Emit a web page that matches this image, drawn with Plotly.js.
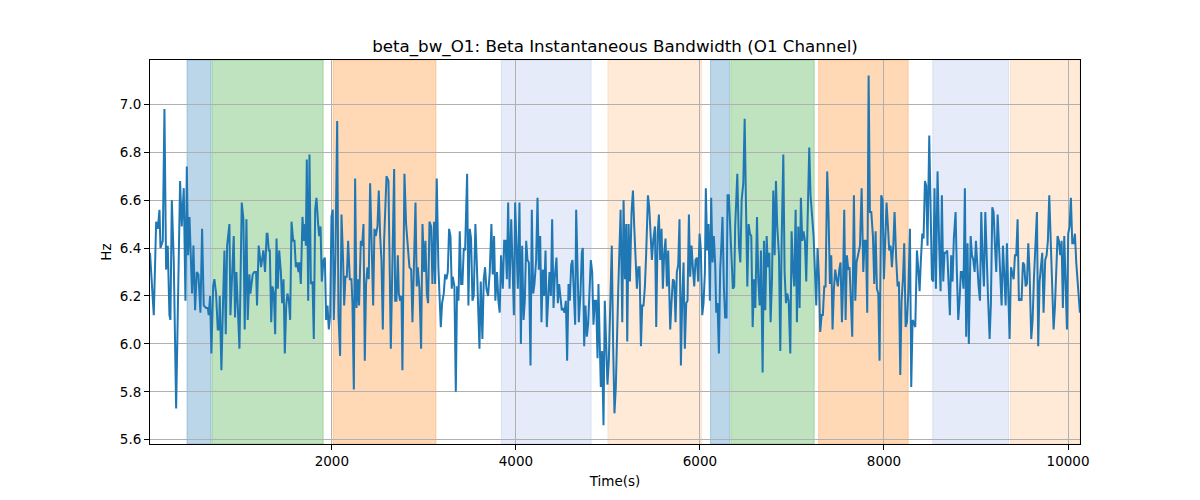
<!DOCTYPE html>
<html>
<head>
<meta charset="utf-8">
<script src="https://cdn.plot.ly/plotly-3.0.1.min.js"></script>
<style>
  body { margin: 0; background: #fff; }
  #chart { width: 1200px; height: 500px; }
</style>
</head>
<body>
<div id="chart"></div>
<script>
// --- DATA ---
const time = [
  24,65,91,109,127,138,163,181,199,217,235,246,261,282,308,333,351,369,391,409,424,438,453,481,496,514,532,550,572,590,608,634,652,662,677,691,710,724,742,760,775,782,800,818,833,847,862,887,898,934,948,963,977,996,1021,1039,1053,1072,1086,1104,1115,1140,1158,1177,1187,1205,1231,1256,1274,1292,
  1301,1315,1326,1341,1355,1370,1384,1399,1413,1428,1446,1460,1475,1489,1504,1518,1533,1547,1562,1580,1594,1609,1623,1638,1648,1663,1681,1696,1710,1717,1728,1743,1757,1772,1790,1804,1819,1833,1851,1862,1877,1891,1909,1924,1938,1953,1967,1982,1996,2010,2021,2039,2058,2072,2090,2105,2123,2134,2148,2163,2177,2195,2213,2224,2239,2253,2268,2286,2296,2315,2329,2344,2358,2372,2387,2401,2416,2434,2449,2463,2477,2496,2510,2525,2539,2554,2568,
  2594,2615,2641,2662,2677,2688,2702,2717,2728,2742,2757,2767,2789,2807,2825,2843,2862,2876,2891,2909,2923,2934,2952,2970,2985,3003,3017,3032,3046,3061,3079,3093,3111,3122,3140,3158,3184,3198,3216,3231,3245,3260,3274,3289,3303,3314,3332,3347,3361,3376,3390,3405,3419,3434,3448,3470,3484,3499,3513,3528,3542,3560,3575,3593,3604,3618,3636,3651,3665,3680,3698,3716,3734,3748,3763,3777,3795,3810,3824,3839,
  3858,3873,3887,3902,3916,3931,3949,3963,3978,3992,4007,4021,4039,4054,4068,4083,4097,4112,4126,4141,4159,4173,4188,4202,4220,4235,4249,4264,4278,4293,4307,4322,4336,4351,4365,4380,4394,4409,4423,4441,4456,4470,4485,4499,4514,4528,4543,4557,4572,4586,4601,4615,4630,4644,4655,4669,4684,4702,4716,4727,4742,4756,4771,4785,4800,4814,4829,4843,4858,4872,4887,4897,4912,4923,4937,4952,4966,4981,4995,5010,5024,5042,5057,5071,5086,5100,5111,
  5138,5156,5170,5185,5199,5210,5225,5239,5257,5272,5286,5301,5315,5330,5344,5359,5373,5387,5402,5416,5435,5449,5463,5478,5492,5511,5525,5540,5554,5568,5583,5597,5612,5626,5641,5655,5666,5677,5692,5706,5721,5735,5749,5764,5778,5793,5807,5822,5836,5851,5865,5880,5894,5909,5923,5938,5952,5967,5981,5996,6010,6025,6039,6054,6064,6079,6093,6108,6122,6137,6151,6166,6177,6191,6206,6220,6235,6245,6260,6274,6289,6300,6314,6329,6343,6358,6372,6383,
  6406,6424,6439,6453,6471,6486,6500,6515,6529,6544,6558,6573,6587,6602,6620,6634,6649,6663,6681,6696,6710,6725,6739,6754,6768,6783,6797,6812,6826,6840,6859,6873,6888,6906,6920,6935,6949,6964,6982,6996,7011,7025,7040,7054,7069,7083,7097,7112,7126,7141,7155,7174,7188,7202,7217,7235,7250,7264,7278,7293,7307,7322,7336,7351,7365,7383,7398,7412,7427,7441,7456,7470,7485,7499,7514,7528,7543,7554,7568,7583,7597,7612,7626,7640,7655,
  7673,7688,7702,7721,7739,7757,7775,7789,7804,7818,7833,7847,7862,7880,7894,7909,7923,7938,7952,7970,7985,7999,8014,8028,8043,8057,8072,8086,8101,8115,8133,8148,8162,8177,8191,8206,8220,8235,8249,8264,8282,8296,8311,8325,8340,8358,8372,8387,8401,8416,8430,8445,8459,8473,8492,8506,8521,8535,8549,8564,8582,8600,8615,8629,8644,8658,8673,8687,8702,8716,8730,8745,8759,8778,8792,8807,8821,8835,8850,8864,8879,8893,8908,8922,
  8942,8956,8971,8985,8999,9014,9028,9043,9057,9072,9086,9101,9115,9130,9148,9162,9177,9191,9206,9220,9235,9249,9264,9278,9293,9307,9322,9336,9351,9365,9380,9394,9409,9423,9437,9452,9466,9481,9495,9510,9524,9539,9553,9568,9582,9600,9615,9629,9644,9662,9676,9691,9705,9720,9734,9752,9767,9781,9796,9810,9825,9843,9857,9872,9886,9901,9915,9930,9944,9959,9973,9988,10002,10017,10031,10046,10060,10075,10089,10104,10118,10129
];

const bandwidth = [
  6.38,6.12,6.51,6.48,6.56,6.40,6.43,6.98,6.31,6.41,6.12,6.10,6.60,6.35,5.73,6.21,6.68,6.49,6.65,6.18,6.74,6.37,6.53,6.21,6.41,6.14,6.30,6.29,6.13,6.48,6.16,6.15,6.15,6.12,6.20,5.96,6.24,6.27,6.21,6.06,6.06,6.20,5.89,6.18,6.39,6.04,6.41,6.50,6.12,6.45,6.11,6.30,6.12,5.98,6.59,6.52,6.06,6.52,6.10,6.29,6.21,6.29,6.30,6.30,6.16,6.41,6.32,6.39,6.30,6.46,
  6.46,6.39,6.39,6.09,6.24,6.21,6.04,6.44,6.23,6.39,6.30,6.17,6.27,5.96,6.16,6.21,6.18,6.10,6.51,6.43,6.43,6.32,6.34,6.30,6.34,6.25,6.53,6.43,6.50,6.41,6.77,6.18,6.79,6.25,6.26,6.02,6.56,6.61,6.50,6.45,6.49,6.26,6.35,6.36,6.10,6.16,6.06,6.12,6.53,6.56,6.10,6.37,6.93,6.12,5.95,6.54,6.34,6.16,6.28,6.28,6.43,6.27,6.27,6.17,5.81,6.69,6.15,6.27,6.16,6.43,6.41,6.50,5.93,6.25,6.32,6.27,6.67,6.37,6.16,6.48,6.45,6.49,6.64,6.45,6.35,6.06,6.43,
  6.70,6.68,5.98,6.41,6.73,6.18,6.18,6.37,6.21,6.18,6.20,5.89,6.71,6.50,6.41,6.32,6.31,6.09,6.31,6.59,6.24,6.32,6.23,5.98,6.50,6.30,6.43,6.21,6.17,6.51,6.49,6.25,6.51,6.25,6.69,6.32,6.07,6.17,6.21,6.29,6.27,6.30,6.48,6.45,6.23,6.28,6.24,5.80,6.24,6.18,6.47,6.25,6.25,6.40,6.39,6.71,6.16,6.48,6.44,6.18,6.20,6.50,6.34,6.05,5.98,6.26,6.02,6.27,6.32,6.23,6.20,6.30,6.50,6.29,6.45,6.18,6.30,6.18,6.13,6.37,
  6.23,6.43,6.43,6.27,6.59,6.23,6.52,6.34,6.12,6.59,6.43,6.23,6.59,6.00,6.41,6.10,6.18,6.43,6.35,6.34,5.91,6.56,6.21,6.25,6.35,6.61,6.31,6.45,6.09,6.31,6.20,6.39,6.07,6.18,6.30,6.20,6.52,6.15,6.28,6.36,6.17,6.25,6.18,6.14,6.15,6.13,6.18,5.93,6.25,6.18,6.33,6.35,6.21,6.08,6.56,6.34,6.09,6.21,6.38,6.40,5.99,6.16,6.03,6.08,6.21,6.35,6.30,6.08,6.18,6.18,5.94,6.25,5.99,5.82,5.97,5.66,6.18,5.93,5.83,5.93,6.10,6.41,5.99,5.71,5.82,6.13,6.21,
  6.56,6.09,6.60,6.27,6.50,6.01,6.50,6.26,6.55,6.64,6.49,6.35,6.23,6.32,6.32,5.99,6.16,6.16,6.24,6.38,6.62,6.57,6.43,6.35,6.43,6.49,6.07,6.46,6.54,6.35,6.48,6.23,6.38,6.44,6.24,6.39,6.23,6.06,6.18,6.27,6.26,6.09,6.30,6.33,6.52,5.91,6.18,6.34,5.98,6.17,6.18,6.54,6.28,6.41,6.32,6.24,6.35,6.36,6.26,6.46,6.39,6.12,6.17,6.30,6.65,6.39,6.50,6.18,6.61,6.34,6.45,6.33,6.13,6.17,5.96,6.31,6.43,6.53,6.24,6.11,6.11,6.62,6.62,6.48,6.35,6.23,6.24,6.49,
  6.71,6.41,6.34,6.60,6.67,6.94,6.59,6.24,6.50,6.46,6.45,6.07,6.27,6.15,6.53,6.27,6.16,6.39,5.88,6.43,6.14,6.45,6.32,6.38,6.09,6.27,6.64,6.37,6.68,6.49,6.37,5.97,6.43,6.79,6.30,6.17,6.21,6.18,5.96,6.47,6.31,6.24,6.56,6.09,6.49,6.15,6.61,6.43,6.47,6.43,6.26,6.53,6.82,6.62,6.53,6.45,6.30,6.16,6.40,6.28,6.05,6.12,6.12,6.24,6.24,6.72,6.53,6.25,6.37,6.06,6.23,6.31,6.27,6.24,6.31,6.34,6.09,6.23,6.56,6.10,6.37,6.31,6.32,6.21,6.03,
  6.62,6.18,6.34,6.38,6.41,6.65,6.30,6.43,6.43,6.13,7.12,6.55,6.55,6.45,6.25,6.47,6.23,6.21,5.93,6.62,6.60,6.27,6.48,6.59,6.49,6.39,6.41,6.32,6.41,6.55,6.35,6.24,6.26,5.87,6.18,6.27,6.42,6.07,6.09,6.21,6.48,5.82,6.10,6.09,6.07,6.39,6.32,6.22,6.35,6.46,6.44,6.68,6.66,6.41,6.87,6.56,6.27,6.26,6.65,6.23,6.72,6.41,6.22,6.62,6.26,6.38,6.38,6.39,6.23,6.12,6.37,6.26,6.44,6.55,6.30,6.10,6.18,6.30,6.30,6.23,6.65,6.03,6.42,6.00,
  6.45,6.37,6.35,6.30,6.43,6.32,6.24,6.18,6.55,6.35,6.24,6.55,6.35,6.20,6.02,6.17,6.57,6.55,6.41,6.30,6.54,6.43,6.31,6.16,6.41,6.31,6.16,6.42,6.21,6.02,6.32,6.30,6.27,6.37,6.37,6.52,6.18,6.19,6.18,6.34,6.33,6.24,6.25,6.42,6.30,6.02,6.10,6.27,6.42,6.55,5.99,6.26,6.32,6.38,6.13,6.35,6.37,6.43,6.62,6.43,6.21,6.06,6.15,6.35,6.45,6.43,6.37,6.43,6.15,6.45,6.30,6.06,6.46,6.49,6.61,6.42,6.42,6.46,6.34,6.25,6.16,6.13
];

// shaded stage intervals
const spanStart = [426, 697, 2014, 3842, 5000, 6115, 6335, 7290, 8530, 9374];
const spanEnd   = [686, 1906, 3132, 4818, 6016, 6321, 7242, 8263, 9354, 10130];
const spanKind  = ['blue', 'green', 'orange', 'lightblue', 'lightorange',
                   'blue', 'green', 'orange', 'lightblue', 'lightorange'];

const xTicks = [2000, 4000, 6000, 8000, 10000];

// --- STYLE ---
const spanFill = {
    blue: 'rgba(31,119,180,0.3)',
    green: 'rgba(44,160,44,0.3)',
    orange: 'rgba(255,127,14,0.3)',
    lightblue: 'rgba(110,145,215,0.18)',
    lightorange: 'rgba(255,150,60,0.2)'
};

const shapes = spanStart.map(function(s, i) {
    return {
        type: 'rect', xref: 'x', yref: 'paper',
        x0: s, x1: spanEnd[i], y0: 0, y1: 1,
        fillcolor: spanFill[spanKind[i]],
        line: { width: 1, color: spanFill[spanKind[i]] },
        layer: 'below'
    };
});

const trace = {
    type: 'scatter',
    mode: 'lines',
    x: time,
    y: bandwidth,
    line: { color: '#1f77b4', width: 2 },
    hoverinfo: 'x+y'
};

const font = { family: 'DejaVu Sans, sans-serif', color: '#000' };

const layout = {
    width: 1200,
    height: 500,
    margin: { l: 150, r: 120, t: 60, b: 56 },
    paper_bgcolor: '#fff',
    plot_bgcolor: 'rgba(0,0,0,0)',
    font: font,
    showlegend: false,
    title: {
        text: 'beta_bw_O1: Beta Instantaneous Bandwidth (O1 Channel)',
        font: { family: font.family, size: 16.7, color: '#000' },
        x: 0.5, xref: 'paper', xanchor: 'center',
        y: 0.908, yref: 'container', yanchor: 'middle'
    },
    xaxis: {
        range: [24, 10130],
        tickvals: xTicks,
        ticktext: xTicks.map(String),
        ticks: 'outside', ticklen: 5, tickwidth: 1, tickcolor: '#000',
        tickfont: { size: 13.5 },
        showgrid: true, gridcolor: '#b0b0b0', gridwidth: 1,
        showline: true, linecolor: '#000', linewidth: 1, mirror: true,
        zeroline: false,
        title: { text: 'Time(s)', font: { size: 13.5 }, standoff: 8 }
    },
    yaxis: {
        range: [5.582, 7.185],
        dtick: 0.2, tick0: 5.6, tickformat: '.1f',
        ticks: 'outside', ticklen: 5, tickwidth: 1, tickcolor: '#000',
        tickfont: { size: 13.5 },
        showgrid: true, gridcolor: '#b0b0b0', gridwidth: 1,
        showline: true, linecolor: '#000', linewidth: 1, mirror: true,
        zeroline: false,
        title: { text: 'Hz', font: { size: 13.5 }, standoff: 5 }
    },
    shapes: shapes
};

Plotly.newPlot('chart', [trace], layout, { displayModeBar: false, staticPlot: true });
</script>
</body>
</html>
